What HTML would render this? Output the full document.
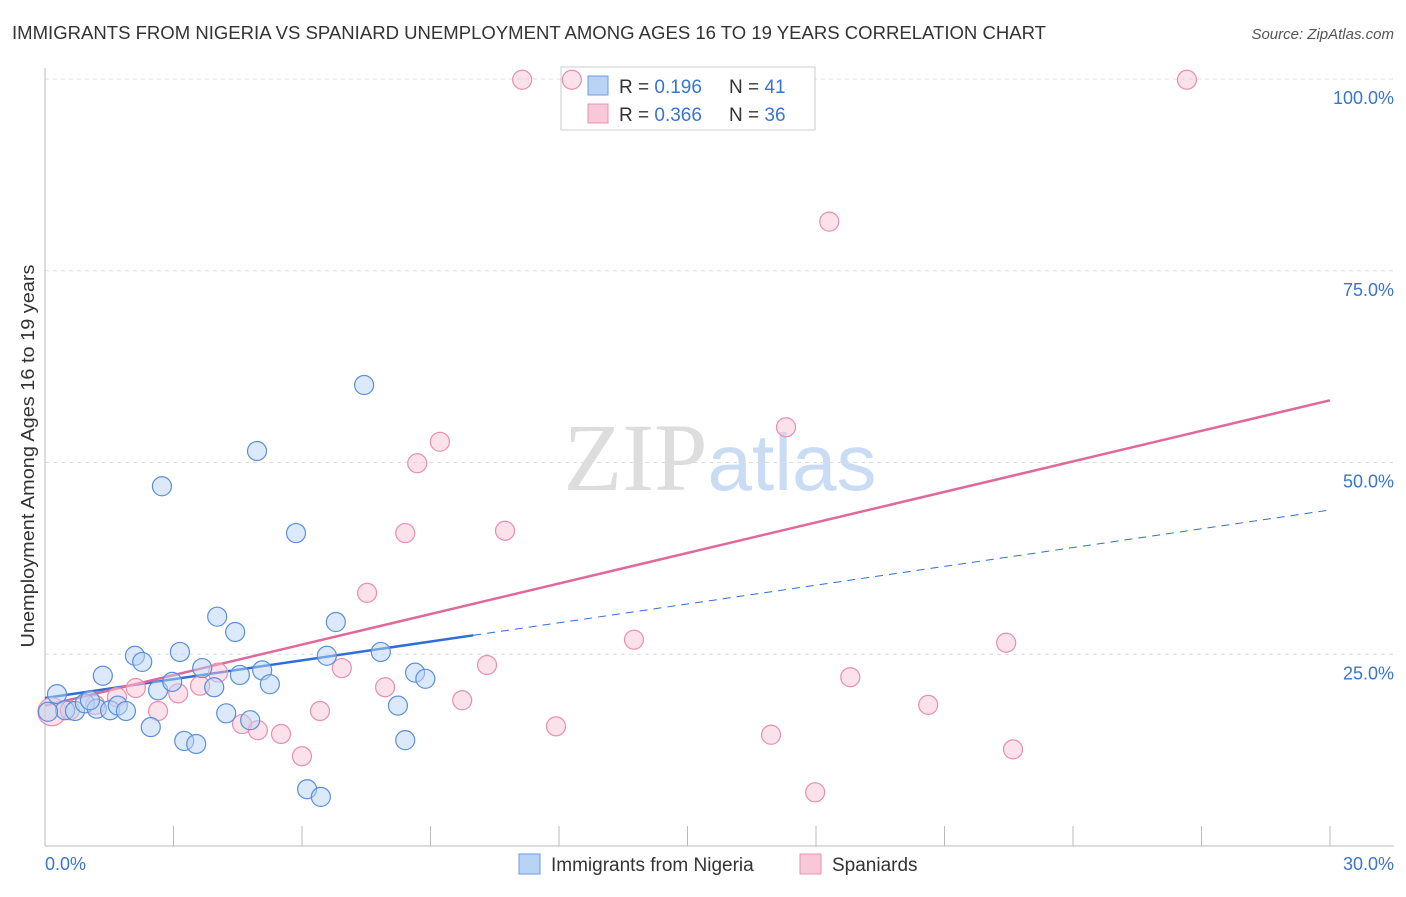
<!DOCTYPE html>
<html><head><meta charset="utf-8"><style>
body{margin:0;background:#fff;font-family:"Liberation Sans",sans-serif}
</style></head><body>
<svg width="1406" height="892" xmlns="http://www.w3.org/2000/svg" font-family="Liberation Sans, sans-serif">
<text x="12" y="39" font-size="18" fill="#333" textLength="1034" lengthAdjust="spacingAndGlyphs">IMMIGRANTS FROM NIGERIA VS SPANIARD UNEMPLOYMENT AMONG AGES 16 TO 19 YEARS CORRELATION CHART</text>
<text x="1394" y="39" font-size="15" fill="#555" text-anchor="end" font-style="italic">Source: ZipAtlas.com</text>
<text x="720" y="490" font-size="96" text-anchor="middle"><tspan fill="#ddd" font-family="Liberation Serif, serif">ZIP</tspan><tspan fill="#c9dcf3" font-size="80">atlas</tspan></text>
<g id="grid"></g><g id="axes"></g>
<g>
<rect x="561" y="67" width="254" height="63" fill="#fff" stroke="#ccc"/>
<rect x="588" y="76" width="20" height="19" fill="#b9d3f5" stroke="#6a9be0"/>
<rect x="588" y="104" width="20" height="19" fill="#f9c8d8" stroke="#ea91b0"/>
<text x="619" y="93" font-size="19" fill="#333">R = <tspan fill="#3a74d0">0.196</tspan><tspan x="729">N = </tspan><tspan fill="#3a74d0">41</tspan></text>
<text x="619" y="121" font-size="19" fill="#333">R = <tspan fill="#3a74d0">0.366</tspan><tspan x="729">N = </tspan><tspan fill="#3a74d0">36</tspan></text>
</g>
<g id="lines"></g><g id="pts"></g>
<text transform="translate(34,456) rotate(-90)" font-size="18" fill="#333" text-anchor="middle" textLength="383" lengthAdjust="spacingAndGlyphs">Unemployment Among Ages 16 to 19 years</text>
<text x="45" y="870" font-size="18" fill="#3a74d0">0.0%</text>
<text x="1394" y="870" font-size="18" fill="#3a74d0" text-anchor="end">30.0%</text>
<g>
<rect x="519" y="854" width="21" height="20" fill="#b9d3f5" stroke="#6a9be0"/>
<text x="551" y="871" font-size="19" fill="#333">Immigrants from Nigeria</text>
<rect x="800" y="854" width="21" height="20" fill="#f9c8d8" stroke="#ea91b0"/>
<text x="832" y="871" font-size="19" fill="#333">Spaniards</text>
</g>
</svg>
<script>
const blueX=[0.28,0.47,0.70,0.93,1.21,1.35,1.52,1.70,1.89,2.10,2.27,2.47,2.64,2.73,2.97,3.15,3.25,3.53,3.67,3.95,4.02,4.23,4.44,4.55,4.79,4.95,5.07,5.25,5.86,6.12,6.44,6.58,6.79,7.45,7.84,8.24,8.41,8.64,8.88,0.07,1.05];
const blueY=[19.8,17.7,17.6,18.6,17.9,22.2,17.7,18.3,17.6,24.8,24.0,15.5,20.3,46.9,21.4,25.3,13.7,13.3,23.2,20.7,29.9,17.3,27.9,22.3,16.4,51.5,22.9,21.1,40.8,7.4,6.4,24.8,29.2,60.1,25.3,18.3,13.8,22.6,21.8,17.5,19.0];
const pinkX=[0.16,0.58,1.17,1.68,2.12,2.64,3.11,3.62,4.04,4.60,4.97,5.51,6.00,6.42,6.93,7.52,7.94,8.41,8.69,9.22,9.74,10.32,10.74,11.14,11.93,12.30,13.75,16.95,17.30,17.98,18.31,18.80,20.62,22.44,22.60,26.66];
const pinkY=[17.5,17.7,18.4,19.4,20.6,17.6,19.9,20.9,22.6,15.9,15.1,14.6,11.7,17.6,23.2,33.0,20.7,40.8,49.9,52.7,19.0,23.6,41.1,99.9,15.6,99.9,26.9,14.5,54.6,7.0,81.4,22.0,18.4,26.5,12.6,99.9];
const blueTrend=[19.3,0.817];
const pinkTrend=[18.3,1.327];
const yTicks=[25,50,75,100];
const yTickLabels=["25.0%","50.0%","75.0%","100.0%"];
const NS='http://www.w3.org/2000/svg';
const sx=v=>45+v*42.833, sy=v=>846-v*7.67;
function mk(tag,a,parent){const e=document.createElementNS(NS,tag);for(const k in a)e.setAttribute(k,a[k]);document.getElementById(parent).appendChild(e);return e;}
yTicks.forEach((t,i)=>{
 const g=mk('line',{x1:45,x2:1394,y1:sy(t),y2:sy(t),stroke:'#ddd','stroke-dasharray':'4,4'},'grid');
 
 
 const l=mk('text',{x:1394,y:sy(t)+25,'font-size':18,fill:'#3a74d0','text-anchor':'end'},'grid');
 l.textContent=yTickLabels[i];
 
 
});
const ax=mk('line',{x1:45,x2:45,y1:68,y2:846,stroke:'#bbb'},'axes');


const bx=mk('line',{x1:45,x2:1394,y1:846,y2:846,stroke:'#bbb'},'axes');


for(let i=1;i<=10;i++){const t=mk('line',{x1:sx(i*3),x2:sx(i*3),y1:826,y2:846,stroke:'#bbb'},'axes');
 
 }
function pts(X,Y,fill,stroke,name,bigIdx){X.forEach((x,i)=>{
 const c=mk('circle',{cx:sx(x),cy:sy(Y[i]),r:(i===bigIdx?14:9.5),fill:fill,'fill-opacity':0.5,stroke:stroke,'stroke-width':1.2},'pts');
 
 });}
pts(pinkX,pinkY,'#f7c3d4','#e98fae','pink-point',0);
pts(blueX,blueY,'#b9d3f5','#5a8fdc','blue-point',-1);
const bl=mk('line',{x1:sx(0),y1:sy(blueTrend[0]),x2:sx(10),y2:sy(blueTrend[0]+blueTrend[1]*10),stroke:'#2d6fd6','stroke-width':2.5},'lines');


const bd=mk('line',{x1:sx(10),y1:sy(blueTrend[0]+blueTrend[1]*10),x2:sx(30),y2:sy(blueTrend[0]+blueTrend[1]*30),stroke:'#2d6fd6','stroke-width':1,'stroke-dasharray':'8,6'},'lines');


const pl=mk('line',{x1:sx(0),y1:sy(pinkTrend[0]),x2:sx(30),y2:sy(pinkTrend[0]+pinkTrend[1]*30),stroke:'#e0689a','stroke-width':2.5},'lines');


</script>
</body></html>
